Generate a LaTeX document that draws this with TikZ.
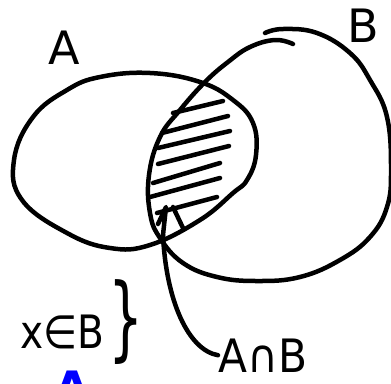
\documentclass[tikz,border=0pt]{standalone}
\usepackage{fontspec}
\setmainfont{DejaVu Sans}
\usepackage{tikz}

\begin{document}
\begin{tikzpicture}[x=1pt, y=-1pt,
  pen/.style={line width=4.5pt, line cap=round, line join=round},
  hand/.style={inner sep=0pt, font=\fontsize{46}{46}\selectfont}]
\useasboundingbox (0,0) rectangle (391,383);
\clip (0,0) rectangle (391,383);

% set A
\draw[pen] plot[smooth cycle, tension=0.7] coordinates {(14,160) (33,117) (67,90) (100,77) (150,73)
  (200,82) (233,100) (253,123) (256,155) (247,180) (233,193) (200,220) (150,245) (110,248)
  (67,233) (22,200)};

% set B
\draw[pen] plot[smooth, tension=0.7] coordinates {(293,44) (275,40) (250,47) (228,62) (205,82)
  (180,110) (160,137) (149,175) (150,213) (160,238) (183,263) (217,277) (257,281) (300,277)
  (340,260) (370,237) (387,207) (391,170) (387,117) (370,80) (350,53) (317,33) (283,29) (265,33)};

% hatching of the intersection
\draw[pen] (173,113) -- (223,101);
\draw[pen] (162,133) -- (228,116);
\draw[pen] (158,148) -- (230,131);
\draw[pen] (158,164) -- (229,146);
\draw[pen] (153,183) -- (220,163);
\draw[pen] (150,197) -- (220,178);
\draw[pen] (157,213) -- (217,197);

\node[hand] (labA) at (64,48) {A};
\node[hand] (labB) at (363,26) {B};
\node[hand, anchor=base west] (member) at (20,348) {\scalebox{0.85}[1]{x∈B}};
\node[inner sep=0pt, font=\fontsize{92}{92}\selectfont] (brace) at (126,322) {\scalebox{0.6}[1]{\}}};
\node[hand, anchor=base west] (aib) at (218,372) {\scalebox{0.92}[1]{A∩B}};
\node[hand, anchor=base, text=blue, font=\fontsize{46}{46}\bfseries] (blueA) at (72,404) {A};

% pointer
\coordinate (tip) at (163,235);
\draw[pen] (158,224) -- (166,207) -- (tip);
\draw[pen] (173,207) -- (183,228);
\draw[pen] (tip) .. controls (166,300) and (188,350) .. (aib.west);
\end{tikzpicture}
\end{document}
